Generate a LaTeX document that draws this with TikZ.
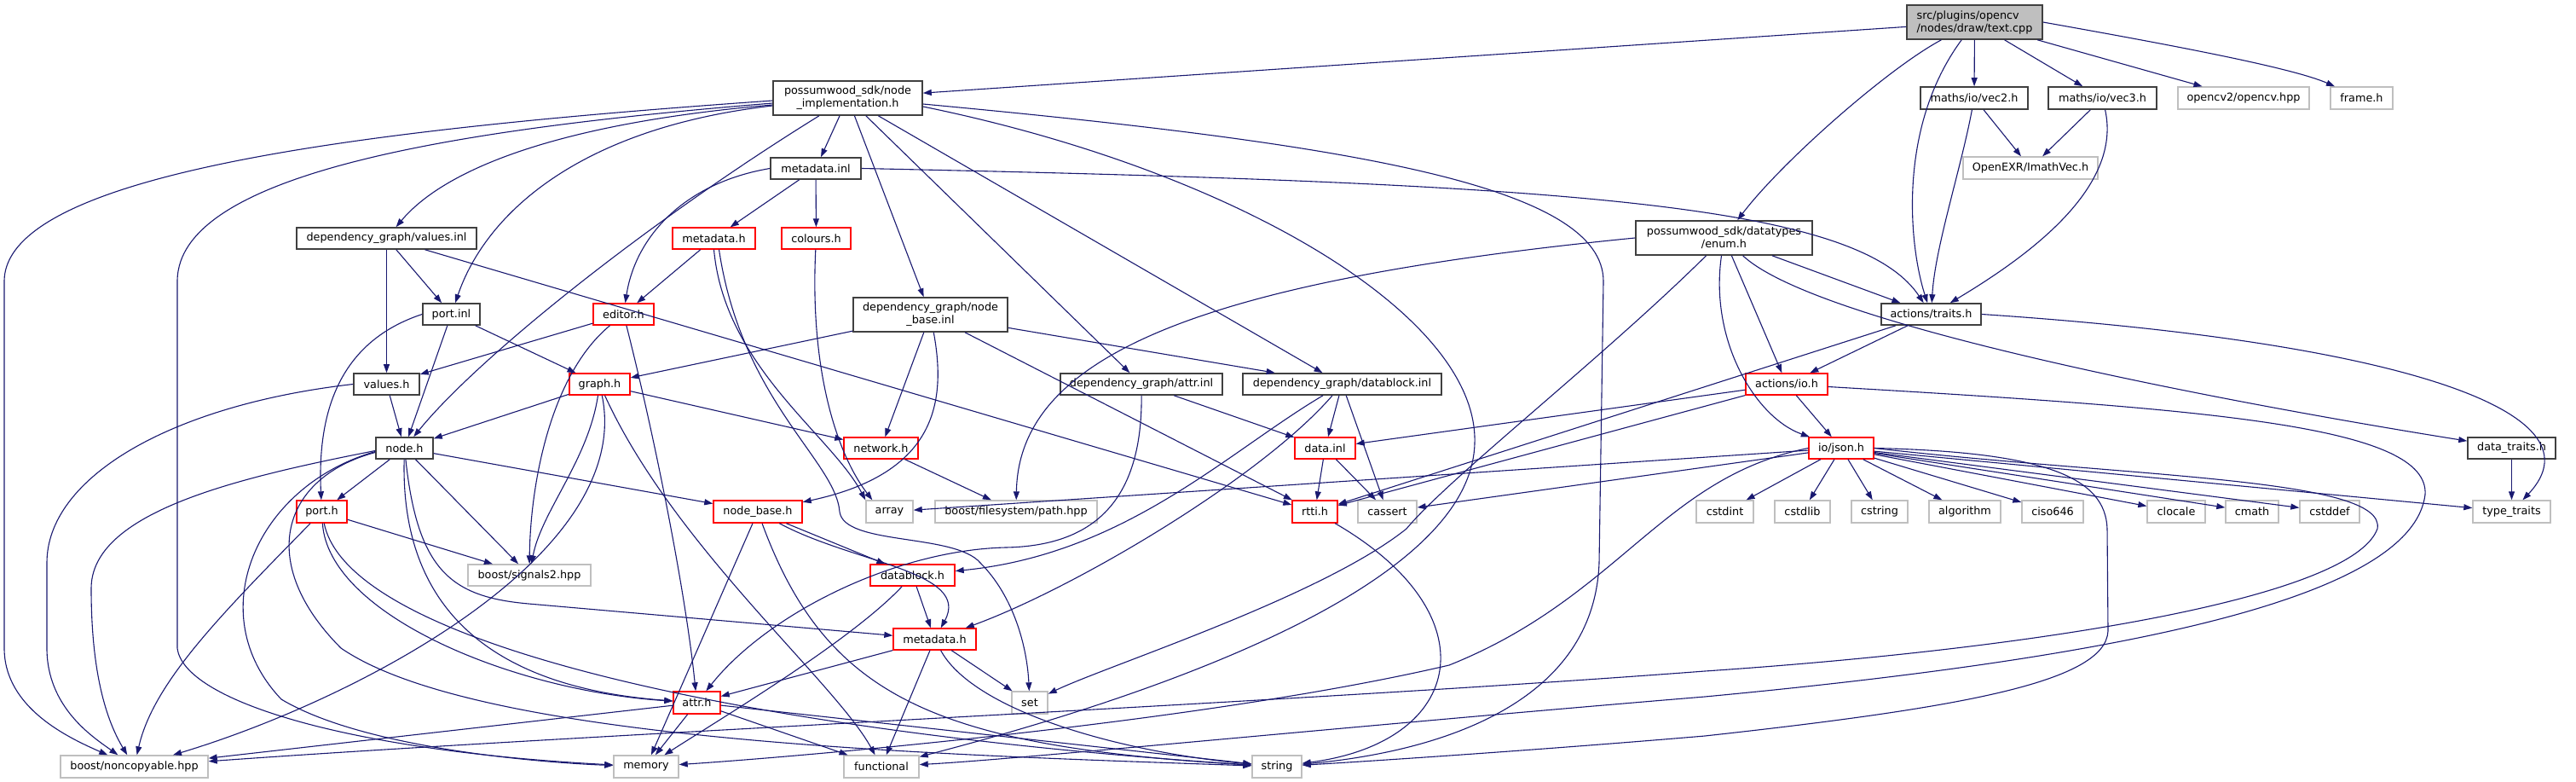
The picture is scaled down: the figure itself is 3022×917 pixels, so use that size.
\documentclass[tikz,border=0pt]{standalone}
\usepackage{fontspec}
\setmainfont{DejaVu Sans}
\usetikzlibrary{arrows.meta}
\definecolor{edgec}{HTML}{191970}
\definecolor{docc}{HTML}{404040}
\definecolor{truncc}{HTML}{FF0000}
\definecolor{extc}{HTML}{BFBFBF}
\newcommand\nd[6]{\node[#1, minimum width=#4pt, minimum height=#5pt] (#2) at (#3) {#6};}
\begin{document}
\begin{tikzpicture}[x=1pt,y=-1pt,
  box/.style={draw, rectangle, inner sep=0pt, fill=white, align=center,
    font=\fontsize{12.8}{15}\selectfont},
  doc/.style={box, draw=docc, line width=1.6pt},
  trunc/.style={box, draw=truncc, line width=1.4pt},
  ext/.style={box, draw=extc, line width=1.4pt},
  root/.style={box, draw=docc, fill=extc, line width=1.6pt, align=left},
  e/.style={draw=edgec, line width=1.1pt, -{Triangle[length=10pt,width=7pt]}}]
\useasboundingbox (0,0) rectangle (3022,917);
% nodes
\nd{root}{textcpp}{2316.5,26}{159}{40}{src/plugins/opencv\\/nodes/draw/text.cpp}
\nd{doc}{nodeimpl}{994.5,115}{175}{40}{possumwood\_sdk/node\\\_implementation.h}
\nd{doc}{vec2}{2316,115}{126}{26}{maths/io/vec2.h}
\nd{doc}{vec3}{2466.5,115}{127}{26}{maths/io/vec3.h}
\nd{ext}{opencv}{2632,115}{154}{26}{opencv2/opencv.hpp}
\nd{ext}{frame}{2770.5,115}{73}{26}{frame.h}
\nd{doc}{metainl}{957,197.5}{106}{25}{metadata.inl}
\nd{ext}{imath}{2382,197}{158}{26}{OpenEXR/ImathVec.h}
\nd{doc}{valuesinl}{453.5,279.5}{211}{25}{dependency\_graph/values.inl}
\nd{trunc}{metaHa}{837.5,279.5}{97}{25}{metadata.h}
\nd{trunc}{colours}{957.5,279.5}{81}{25}{colours.h}
\nd{doc}{enumh}{2022.5,279}{207}{40}{possumwood\_sdk/datatypes\\/enum.h}
\nd{doc}{portinl}{529.5,368.5}{67}{25}{port.inl}
\nd{trunc}{editor}{731.5,368.5}{71}{25}{editor.h}
\nd{doc}{nbinl}{1091.5,369}{181}{40}{dependency\_graph/node\\\_base.inl}
\nd{doc}{traits}{2265.5,368.5}{117}{25}{actions/traits.h}
\nd{doc}{valuesh}{453.5,450.5}{77}{25}{values.h}
\nd{trunc}{graph}{703.5,450.5}{71}{25}{graph.h}
\nd{doc}{attrinl}{1339,450.5}{190}{25}{dependency\_graph/attr.inl}
\nd{doc}{dbinl}{1574.5,450.5}{233}{25}{dependency\_graph/datablock.inl}
\nd{trunc}{ioh}{2096,450.5}{96}{25}{actions/io.h}
\nd{doc}{nodeh}{474.5,525.5}{67}{25}{node.h}
\nd{trunc}{network}{1033.5,525.5}{87}{25}{network.h}
\nd{trunc}{datainl}{1554.5,525.5}{71}{25}{data.inl}
\nd{trunc}{json}{2160,525.5}{76}{25}{io/json.h}
\nd{doc}{datatraits}{2946.5,525.5}{103}{25}{data\_traits.h}
\nd{trunc}{porth}{377.5,600}{59}{26}{port.h}
\nd{trunc}{nbh}{889,600}{104}{26}{node\_base.h}
\nd{ext}{array}{1043.5,600}{55}{26}{array}
\nd{ext}{path}{1192,600}{190}{26}{boost/filesystem/path.hpp}
\nd{trunc}{rtti}{1542.5,600}{53}{26}{rtti.h}
\nd{ext}{cassert}{1627.5,600}{69}{26}{cassert}
\nd{ext}{cstdint}{2023.5,600}{67}{26}{cstdint}
\nd{ext}{cstdlib}{2114.5,600}{65}{26}{cstdlib}
\nd{ext}{cstring}{2205,600}{66}{26}{cstring}
\nd{ext}{algorithm}{2305,600}{84}{26}{algorithm}
\nd{ext}{ciso}{2408,600}{72}{26}{ciso646}
\nd{ext}{clocale}{2553,600}{68}{26}{clocale}
\nd{ext}{cmath}{2642,600}{62}{26}{cmath}
\nd{ext}{cstddef}{2733,600}{70}{26}{cstddef}
\nd{ext}{typetraits}{2946.5,600}{91}{26}{type\_traits}
\nd{ext}{signals}{621,674.5}{144}{25}{boost/signals2.hpp}
\nd{trunc}{dbh}{1070.5,674.5}{99}{25}{datablock.h}
\nd{trunc}{metaHb}{1096.5,749.5}{97}{25}{metadata.h}
\nd{trunc}{attrh}{817.5,824}{55}{26}{attr.h}
\nd{ext}{set}{1208,824}{42}{26}{set}
\nd{ext}{noncopy}{157.5,899}{173}{26}{boost/noncopyable.hpp}
\nd{ext}{memory}{758,899}{76}{26}{memory}
\nd{ext}{functional}{1034,899}{88}{26}{functional}
\nd{ext}{string}{1498,899}{58}{26}{string}
% edges: text.cpp
\draw[e] (textcpp) -- (nodeimpl);
\draw[e] (textcpp) .. controls (2215,80) and (2090,190) .. (enumh);
\draw[e] (textcpp) .. controls (2225,150) and (2240,290) .. (traits);
\draw[e] (textcpp) -- (vec2);
\draw[e] (textcpp) -- (vec3);
\draw[e] (textcpp) -- (opencv);
\draw[e] (textcpp.east) .. controls (2560,55) and (2690,80) .. (frame);
\draw[e] (vec2) -- (imath);
\draw[e] (vec3) -- (imath);
\draw[e] (vec2) .. controls (2300,200) and (2270,290) .. (traits);
\draw[e] (vec3) .. controls (2490,220) and (2380,300) .. (traits);
% node_implementation.h
\draw[e] ([yshift=-3pt]nodeimpl.west) .. controls (450,150) and (5,200) .. (5,330) -- (5,760) .. controls (5,830) and (80,865) .. (noncopy);
\draw[e] ([yshift=-6pt]nodeimpl.west) .. controls (550,150) and (208,200) .. (208,330) -- (208,760) .. controls (215,820) and (400,880) .. (memory);
\draw[e] ([yshift=-8pt]nodeimpl.west) .. controls (650,145) and (520,200) .. (valuesinl);
\draw[e] ([yshift=-9pt]nodeimpl.west) .. controls (680,150) and (570,250) .. (portinl);
\draw[e] (nodeimpl) .. controls (760,260) and (560,420) .. (nodeh);
\draw[e] (nodeimpl) -- (metainl);
\draw[e] (nodeimpl) -- (nbinl);
\draw[e] (nodeimpl) -- (attrinl);
\draw[e] (nodeimpl) -- (dbinl);
\draw[e] ([yshift=-7pt]nodeimpl.east) .. controls (1600,170) and (1881,220) .. (1881,330) -- (1876,660) .. controls (1870,820) and (1700,880) .. (string);
\draw[e] ([yshift=-10pt]nodeimpl.east) .. controls (1450,200) and (1735,370) .. (1730,520) .. controls (1725,700) and (1300,830) .. (functional);
% metadata.inl
\draw[e] (metainl) -- (metaHa);
\draw[e] (metainl) -- (colours);
\draw[e] (metainl.west) .. controls (800,215) and (745,280) .. (editor);
\draw[e] (metainl.east) .. controls (1850,215) and (2180,240) .. (traits);
% values.inl
\draw[e] (valuesinl) -- (portinl);
\draw[e] (valuesinl) -- (valuesh);
\draw[e] (valuesinl) -- (rtti);
% metadata.h (upper), colours.h
\draw[e] (metaHa) -- (editor);
\draw[e] (metaHa.south) .. controls (850,430) and (975,510) .. (array.north west);
\draw[e] ([xshift=6pt]metaHa.south) .. controls (870,470) and (980,540) .. (985,600) .. controls (990,640) and (1120,625) .. (1150,660) .. controls (1190,700) and (1205,760) .. (set);
\draw[e] (colours) .. controls (950,430) and (980,530) .. ([xshift=8pt]array.north west);
% port.inl
\draw[e] (portinl) -- (nodeh);
\draw[e] (portinl.west) .. controls (400,400) and (372,480) .. (porth);
\draw[e] (portinl) -- (graph);
% editor.h
\draw[e] (editor) -- (valuesh);
\draw[e] (editor) .. controls (645,440) and (622,570) .. (signals);
\draw[e] (editor) .. controls (770,520) and (805,700) .. (attrh);
% values.h
\draw[e] (valuesh) -- (nodeh);
\draw[e] (valuesh.west) .. controls (200,475) and (55,560) .. (55,660) -- (55,760) .. controls (55,830) and (110,865) .. (noncopy);
% graph.h
\draw[e] (graph) -- (nodeh);
\draw[e] (graph) -- (network);
\draw[e] (graph) .. controls (690,540) and (635,600) .. (signals);
\draw[e] (graph) .. controls (745,650) and (420,820) .. (noncopy);
\draw[e] (graph) .. controls (790,640) and (980,800) .. (functional);
% node.h
\draw[e] (nodeh) -- (porth);
\draw[e] (nodeh) -- (nbh);
\draw[e] (nodeh) -- (signals);
\draw[e] ([yshift=-3pt]nodeh.west) .. controls (280,560) and (107,600) .. (107,690) .. controls (107,790) and (125,845) .. (noncopy);
\draw[e] ([yshift=-4pt]nodeh.west) .. controls (300,570) and (235,720) .. (330,820) .. controls (430,880) and (650,895) .. (memory);
\draw[e] (nodeh) .. controls (470,700) and (560,805) .. (attrh);
\draw[e] (nodeh) .. controls (490,670) and (530,700) .. (620,708) -- (metaHb);
\draw[e] ([yshift=-5pt]nodeh.west) .. controls (330,560) and (300,660) .. (400,760) .. controls (560,870) and (1100,885) .. (string);
% port.h
\draw[e] (porth) .. controls (260,720) and (180,800) .. (noncopy);
\draw[e] (porth) -- (signals);
\draw[e] (porth) .. controls (385,720) and (600,810) .. (attrh);
\draw[e] (porth) .. controls (410,760) and (900,860) .. (string);
% node_base.h
\draw[e] (nbh) -- (dbh);
\draw[e] (nbh) .. controls (1000,660) and (1140,670) .. (metaHb);
\draw[e] (nbh) -- (memory);
\draw[e] (nbh) .. controls (970,820) and (1100,875) .. (string);
% node_base.inl
\draw[e] (nbinl) -- (graph);
\draw[e] (nbinl) -- (network);
\draw[e] (nbinl) .. controls (1110,470) and (1100,555) .. (nbh);
\draw[e] (nbinl) -- (rtti);
\draw[e] (nbinl) -- (dbinl);
% attr.inl
\draw[e] (attrinl) -- (datainl);
\draw[e] (attrinl) .. controls (1340,580) and (1290,640) .. (1180,642) .. controls (1050,645) and (900,720) .. (attrh);
% datablock.inl
\draw[e] (dbinl) -- (datainl);
\draw[e] (dbinl) -- (cassert);
\draw[e] (dbinl) .. controls (1440,530) and (1320,650) .. (dbh);
\draw[e] (dbinl) .. controls (1480,560) and (1260,690) .. (metaHb);
% data.inl, network.h
\draw[e] (datainl) -- (rtti);
\draw[e] (datainl) -- (cassert);
\draw[e] (network) -- (path);
% datablock.h, metadata.h (lower), attr.h, rtti.h
\draw[e] (dbh) -- (metaHb);
\draw[e] (dbh) .. controls (1000,750) and (850,840) .. (memory);
\draw[e] (metaHb) -- (attrh);
\draw[e] (metaHb) -- (functional);
\draw[e] (metaHb) -- (set);
\draw[e] (metaHb) .. controls (1140,830) and (1300,880) .. (string);
\draw[e] (attrh) -- (noncopy);
\draw[e] (attrh) -- (memory);
\draw[e] (attrh) -- (functional);
\draw[e] (attrh) -- (string);
\draw[e] (rtti) .. controls (1750,720) and (1720,870) .. (string);
% traits.h
\draw[e] (traits) -- (ioh);
\draw[e] (traits) -- (rtti);
\draw[e] (traits.east) .. controls (2800,400) and (3060,480) .. (typetraits);
% io.h
\draw[e] (ioh) -- (json);
\draw[e] (ioh) -- (datainl);
\draw[e] (ioh) -- (rtti);
\draw[e] ([yshift=-3pt]ioh.east) .. controls (2600,480) and (2850,500) .. (2845,580) .. controls (2830,700) and (2500,770) .. (2000,817) .. controls (1600,850) and (1200,890) .. (functional);
% json.h
\draw[e] (json) -- (cstdint);
\draw[e] (json) -- (cstdlib);
\draw[e] (json) -- (cstring);
\draw[e] (json) -- (algorithm);
\draw[e] (json) -- (ciso);
\draw[e] (json) -- (clocale);
\draw[e] (json) -- (cmath);
\draw[e] (json) -- (cstddef);
\draw[e] (json) -- (typetraits);
\draw[e] (json) -- (array);
\draw[e] (json) -- (cassert);
\draw[e] (json.east) .. controls (2400,530) and (2470,560) .. (2472,620) -- (2473,740) .. controls (2470,800) and (2300,830) .. (2000,863) .. controls (1800,880) and (1600,893) .. (string);
\draw[e] (json.east) .. controls (2500,560) and (2800,560) .. (2789,620) .. controls (2760,700) and (2400,760) .. (2000,787) .. controls (1500,825) and (700,860) .. (noncopy);
\draw[e] (json.west) .. controls (1950,560) and (1900,700) .. (1700,780) .. controls (1400,850) and (900,890) .. (memory);
% enum.h
\draw[e] (enumh) -- (traits);
\draw[e] (enumh) -- (ioh);
\draw[e] (enumh) .. controls (2005,400) and (2060,490) .. (json);
\draw[e] (enumh) .. controls (2130,380) and (2600,470) .. (datatraits);
\draw[e] (enumh.west) .. controls (1400,330) and (1195,420) .. (path);
\draw[e] (enumh) .. controls (1880,420) and (1700,560) .. (1650,620) .. controls (1550,700) and (1300,780) .. (set);
\draw[e] (datatraits) -- (typetraits);
\end{tikzpicture}
\end{document}
